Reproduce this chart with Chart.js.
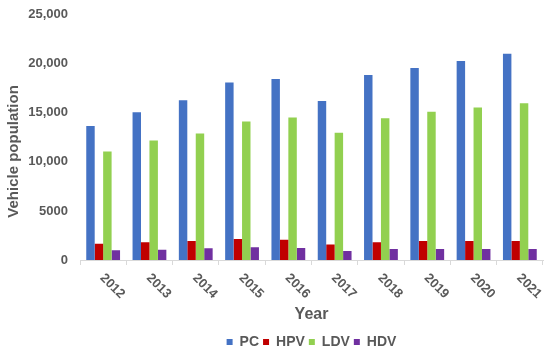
<!DOCTYPE html>
<html lang="en">
<head>
  <meta charset="UTF-8">
  <title>Vehicle population</title>
  <script src="https://cdn.jsdelivr.net/npm/chart.js"></script>
  <style>
    html, body { margin: 0; padding: 0; background: #fff; overflow: hidden; }
    .chart-box { width: 550px; height: 360px; margin-top: -5px; }
  </style>
</head>
<body>
  <div class="chart-box">
    <canvas id="graph"></canvas>
  </div>

  <script>
    // data
    const years = ['2012', '2013', '2014', '2015', '2016', '2017', '2018', '2019', '2020', '2021'];
    const pcValues  = [13650, 15070, 16290, 18090, 18460, 16220, 18860, 19570, 20290, 21030];
    const hpvValues = [1660, 1800, 1930, 2130, 2060, 1590, 1800, 1930, 1930, 1930];
    const ldvValues = [11070, 12190, 12900, 14120, 14530, 12970, 14460, 15110, 15540, 15980];
    const hdvValues = [985, 1050, 1190, 1290, 1220, 915, 1120, 1120, 1120, 1120];
    const yTickLabels = ['0', '5000', '10,000', '15,000', '20,000', '25,000'];

    const textColor = '#595959';
    const fontFamily = '"Liberation Sans", Arial, sans-serif';

    // year labels go down to the right (clockwise), chart.js only rotates the other way
    // y title sits a bit lower than the middle of the axis in the original
    const extraText = {
      id: 'extraText',
      afterDraw(chart) {
        const ctx = chart.ctx;
        const xs = chart.scales.x;
        const area = chart.chartArea;
        ctx.save();
        ctx.fillStyle = textColor;
        ctx.font = 'bold 13px ' + fontFamily;
        ctx.textAlign = 'left';
        ctx.textBaseline = 'middle';
        years.forEach((y, i) => {
          const x = xs.getPixelForTick(i);
          ctx.save();
          ctx.translate(x - 1, xs.top + 16);
          ctx.rotate(Math.PI / 4);
          ctx.fillText(y, 0, 0);
          ctx.restore();
        });

        ctx.font = 'bold 15px ' + fontFamily;
        ctx.textAlign = 'center';
        ctx.translate(14, (area.top + area.bottom) / 2 + 14);
        ctx.rotate(-Math.PI / 2);
        ctx.fillText('Vehicle population', 0, 0);
        ctx.restore();
      }
    };

    const ctx = document.getElementById('graph').getContext('2d');
    new Chart(ctx, {
      type: 'bar',
      data: {
        labels: years,
        datasets: [
          { label: 'PC',  data: pcValues,  backgroundColor: '#4472C4' },
          { label: 'HPV', data: hpvValues, backgroundColor: '#C00000' },
          { label: 'LDV', data: ldvValues, backgroundColor: '#92D050' },
          { label: 'HDV', data: hdvValues, backgroundColor: '#7030A0' }
        ]
      },
      options: {
        responsive: true,
        maintainAspectRatio: false,
        animation: false,
        datasets: {
          bar: { categoryPercentage: 0.73, barPercentage: 1.0 }
        },
        layout: {
          autoPadding: false,
          padding: { top: 8, right: 7, left: 0, bottom: -4 }
        },
        scales: {
          x: {
            offset: true,
            grid: {
              drawOnChartArea: false,
              color: '#d9d9d9',
              tickLength: 5
            },
            border: { color: '#d9d9d9' },
            ticks: { display: false },
            title: {
              display: true,
              text: 'Year',
              color: textColor,
              font: { family: fontFamily, size: 16, weight: 'bold' },
              padding: { top: 0, bottom: 7 }
            },
            afterFit(scale) { scale.height = 71; }
          },
          y: {
            min: 0,
            max: 25000,
            grid: { display: false, drawTicks: false },
            border: { display: false },
            ticks: {
              stepSize: 5000,
              padding: 12,
              color: textColor,
              font: { family: fontFamily, size: 13, weight: 'bold' },
              callback: function(value, index) {
                return yTickLabels[index];
              }
            },
            afterFit(scale) { scale.width = 80; }
          }
        },
        plugins: {
          legend: {
            position: 'bottom',
            fullSize: false,
            labels: {
              boxWidth: 6,
              boxHeight: 6,
              padding: 4,
              color: textColor,
              font: { family: fontFamily, size: 14, weight: 'bold', lineHeight: 1 }
            }
          },
          tooltip: { enabled: false }
        }
      },
      plugins: [extraText]
    });
  </script>
</body>
</html>
